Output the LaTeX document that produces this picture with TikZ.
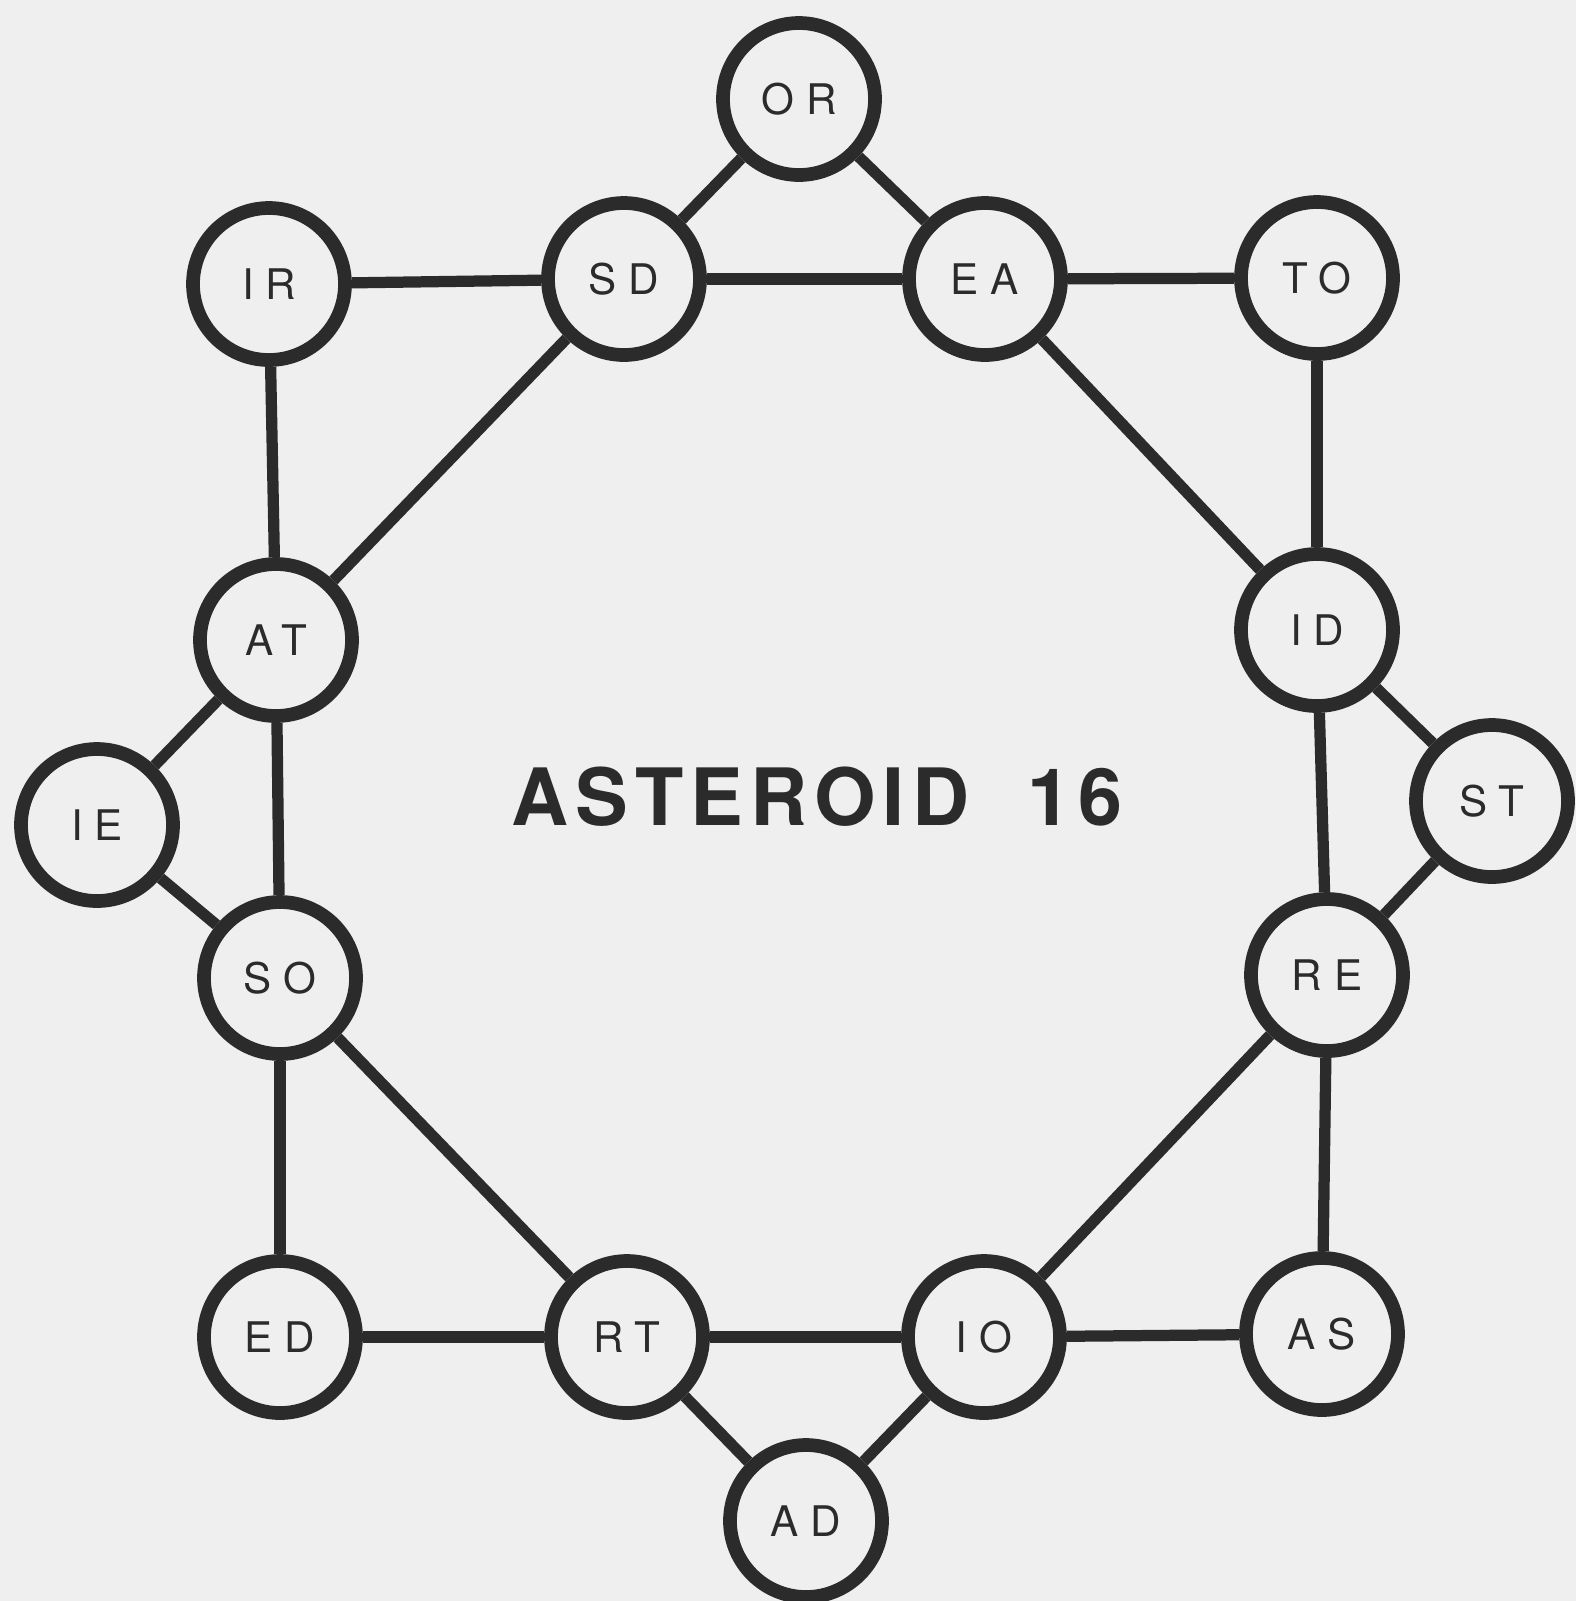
\documentclass[tikz,border=0pt]{standalone}
\usepackage{fontspec}
\setmainfont{TeX Gyre Heros}
\newfontfamily\lblfont[LetterSpace=28]{TeX Gyre Heros}
\newfontfamily\ttlfont[LetterSpace=9]{TeX Gyre Heros}
\usepackage{tikz}

\definecolor{paper}{HTML}{EFEFEF}
\definecolor{ink}{HTML}{2B2B2B}

\begin{document}
\begin{tikzpicture}[
        ast/.style={draw=ink, circle, line width=3.9pt, fill=paper, minimum size=1.52cm,
          inner sep=0pt, text=ink, font=\lblfont\fontsize{12}{14}\selectfont},
        link/.style={draw=ink, line width=3.2pt}
      ]
      \fill[paper] (0,0) rectangle (15.76,-16.01);
      \useasboundingbox (0,0) rectangle (15.76,-16.01);
      % the sixteen stations
      \node[ast] (or) at (7.99,-0.99) {OR};
      \node[ast] (sd) at (6.24,-2.79) {SD};
      \node[ast] (ea) at (9.85,-2.79) {EA};
      \node[ast] (ir) at (2.69,-2.84) {IR};
      \node[ast] (to) at (13.17,-2.78) {TO};
      \node[ast] (at) at (2.76,-6.40) {AT};
      \node[ast] (id) at (13.17,-6.30) {ID};
      \node[ast] (ie) at (0.97,-8.25) {IE};
      \node[ast] (st) at (14.92,-8.01) {ST};
      \node[ast] (so) at (2.80,-9.78) {SO};
      \node[ast] (re) at (13.27,-9.75) {RE};
      \node[ast] (ed) at (2.80,-13.37) {ED};
      \node[ast] (rt) at (6.27,-13.37) {RT};
      \node[ast] (io) at (9.84,-13.37) {IO};
      \node[ast] (as) at (13.22,-13.34) {AS};
      \node[ast] (ad) at (8.06,-15.21) {AD};
      \node[text=ink, font=\ttlfont\bfseries\fontsize{22.5}{26}\selectfont] (title) at (8.17,-7.97) {ASTEROID\ \ 16};
      % tunnels
      \foreach \a/\b in {or/sd, or/ea, ir/sd, sd/ea, ea/to, sd/at, ir/at, ea/id,
          to/id, at/ie, at/so, ie/so, id/st, id/re, st/re, so/ed, so/rt, re/io,
          re/as, ed/rt, rt/io, io/as, rt/ad, io/ad}
        \draw[link] (\a) -- (\b);
    \end{tikzpicture}
\end{document}
